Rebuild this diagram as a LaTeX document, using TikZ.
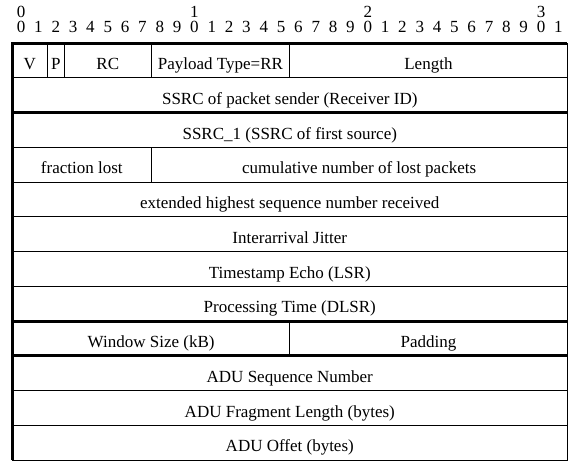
\documentclass[tikz,border=0pt]{standalone}
\usepackage{fontspec}
\setmainfont{Liberation Serif}
\usetikzlibrary{positioning}

\begin{document}
\begin{tikzpicture}[
  x=1pt, y=-1pt,
  node distance=0pt,
  field/.style={draw, line width=0.8pt, minimum width=#1*17.33pt, minimum height=34.75pt, inner sep=0pt, outer sep=0pt, text height=18.5pt, text depth=0pt, font=\fontsize{17}{20}\selectfont},
  bitnum/.style={anchor=base, inner sep=0pt, font=\fontsize{17}{20}\selectfont},
  heavy/.style={line width=3pt}
]
\useasboundingbox (0,0) rectangle (568,461);

% bit ruler
\foreach \b in {0,...,31}{
  \pgfmathtruncatemacro\d{mod(\b,10)}
  \node[bitnum] (bit\b) at (12.5+\b*17.33+8.665, 32.5) {\d};
}
\foreach \t in {0,...,3}
  \node[bitnum] (tens\t) at (21.165+\t*173.3, 17) {\t};

% header word
\node[field=2, anchor=north west] (v) at (12.5,43) {V};
\node[field=1, right=of v] (p) {P};
\node[field=5, right=of p] (rc) {RC};
\node[field=8, right=of rc] (pt) {Payload Type=RR};
\node[field=16, right=of pt] (len) {Length};
\node[field=32, below right=of v.south west] (sender) {SSRC of packet sender (Receiver ID)};

% report block
\node[field=32, below=of sender] (ssrc1) {SSRC\_1 (SSRC of first source)};
\node[field=8, below right=of ssrc1.south west] (fraction) {fraction lost};
\node[field=24, right=of fraction] (cumlost) {cumulative number of lost packets};
\node[field=32, below right=of fraction.south west] (extseq) {extended highest sequence number received};
\node[field=32, below=of extseq] (jitter) {Interarrival Jitter};
\node[field=32, below=of jitter] (lsr) {Timestamp Echo (LSR)};
\node[field=32, below=of lsr] (dlsr) {Processing Time (DLSR)};

% extension
\node[field=16, below right=of dlsr.south west] (window) {Window Size (kB)};
\node[field=16, right=of window] (padding) {Padding};
\node[field=32, below right=of window.south west] (aduseq) {ADU Sequence Number};
\node[field=32, below=of aduseq] (adulen) {ADU Fragment Length (bytes)};
\node[field=32, below=of adulen] (aduoff) {ADU Offet (bytes)};

% heavy separators
\draw[heavy] (aduoff.south west) -- (v.north west) -- (len.north east);
\draw[heavy] (sender.south west) -- (sender.south east);
\draw[heavy] (dlsr.south west) -- (dlsr.south east);
\draw[heavy] (window.south west) -- (padding.south east);
\end{tikzpicture}
\end{document}
